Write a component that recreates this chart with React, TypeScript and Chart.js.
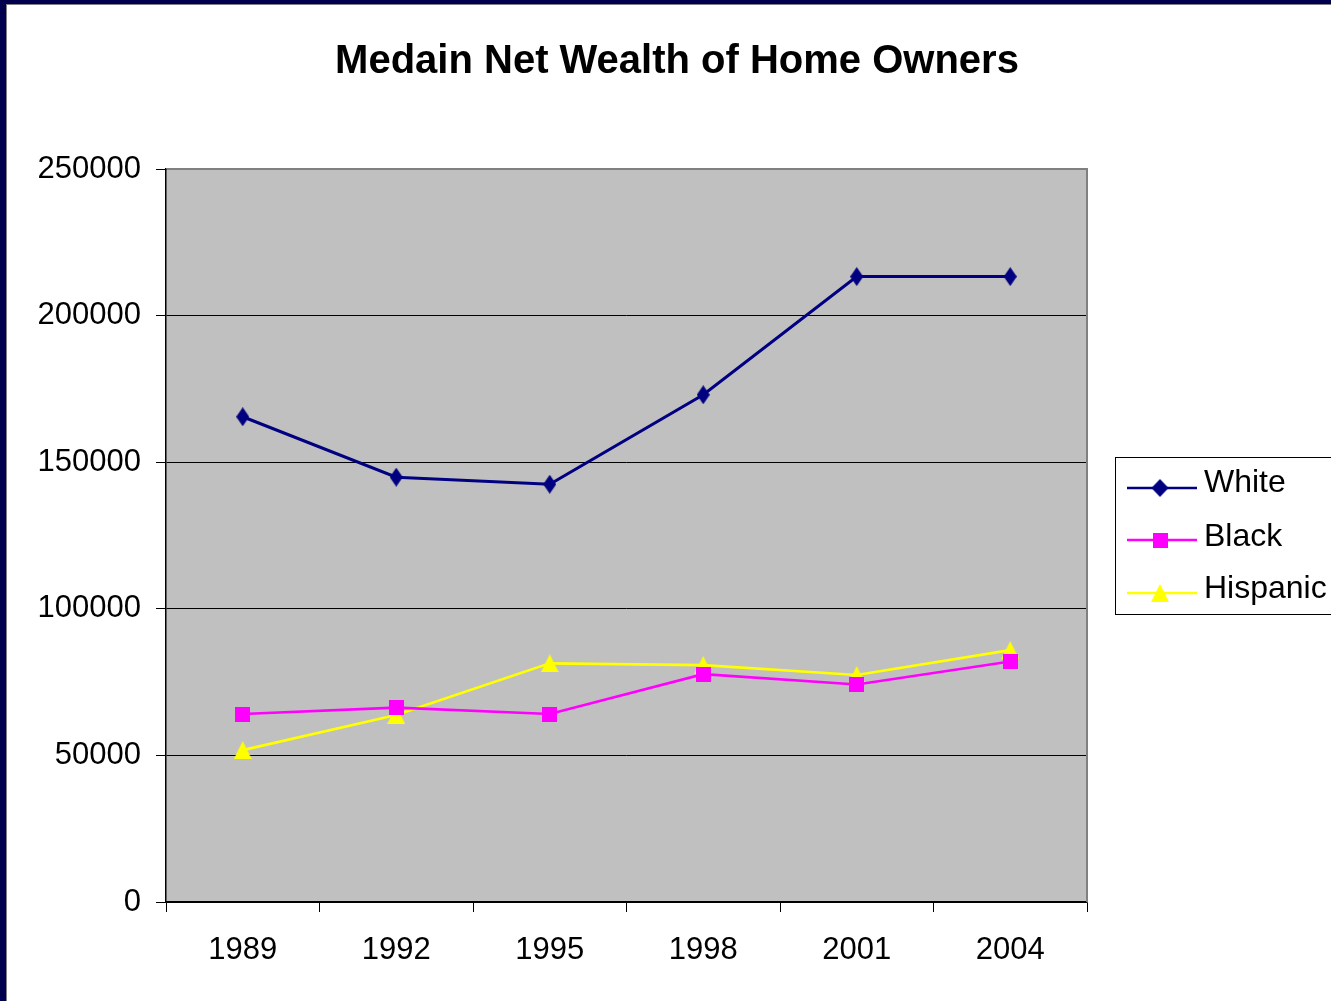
import React, { useEffect, useRef } from 'react';
import { Chart, registerables, layouts } from 'chart.js';

Chart.register(...registerables);

const titleText = 'Medain Net Wealth of Home Owners';
const years = ['1989', '1992', '1995', '1998', '2001', '2004'];
const seriesNames = ['White', 'Black', 'Hispanic'];
const whiteValues = [165500, 144900, 142500, 173000, 213300, 213300];
const blackValues = [64100, 66300, 64100, 77700, 74200, 82000];
const hispanicValues = [51800, 63800, 81400, 80800, 77400, 85900];
const yMin = 0;
const yMax = 250000;
const yStep = 50000;

const FONT = "'Liberation Sans', Arial, sans-serif";
const NAVY = '#000080';
const MAGENTA = '#FF00FF';
const YELLOW = '#FFFF00';

function makeMarker(kind: 'diamond' | 'square' | 'triangle', color: string, w: number, h: number): HTMLCanvasElement {
  const c = document.createElement('canvas');
  c.width = w; c.height = h;
  const ctx = c.getContext('2d')!;
  ctx.fillStyle = color;
  ctx.beginPath();
  if (kind === 'diamond') {
    ctx.moveTo(w / 2, 0); ctx.lineTo(w, h / 2); ctx.lineTo(w / 2, h); ctx.lineTo(0, h / 2);
  } else if (kind === 'triangle') {
    ctx.moveTo(w / 2, 0); ctx.lineTo(w, h); ctx.lineTo(0, h);
  } else {
    ctx.rect(0, 0, w, h);
  }
  ctx.closePath();
  ctx.fill();
  return c;
}

export default function App() {
  const ref = useRef<HTMLCanvasElement | null>(null);

  useEffect(() => {
    const canvas = ref.current;
    if (!canvas) return;

    const markers = [
      makeMarker('diamond', NAVY, 13, 19),
      makeMarker('square', MAGENTA, 15, 15),
      makeMarker('triangle', YELLOW, 18, 18),
    ];
    const legendMarkers = [
      makeMarker('diamond', NAVY, 17, 18),
      makeMarker('square', MAGENTA, 15, 15),
      makeMarker('triangle', YELLOW, 18, 18),
    ];
    const colors = [NAVY, MAGENTA, YELLOW];
    const values = [whiteValues, blackValues, hispanicValues];

    const plotBg = {
      id: 'plotBg',
      beforeDraw(chart: any) {
        const { ctx, chartArea: a } = chart;
        ctx.save();
        ctx.fillStyle = '#C0C0C0';
        ctx.fillRect(a.left, a.top, a.right - a.left, a.bottom - a.top);
        ctx.restore();
      },
      beforeDatasetsDraw(chart: any) {
        const { ctx, chartArea: a } = chart;
        ctx.save();
        ctx.strokeStyle = '#808080';
        ctx.lineWidth = 2;
        ctx.beginPath();
        ctx.moveTo(a.left + 1, a.top);
        ctx.lineTo(a.right, a.top);
        ctx.lineTo(a.right, a.bottom);
        ctx.stroke();
        ctx.restore();
      },
    };

    const boxLegend = {
      id: 'boxLegend',
      beforeInit(chart: any) {
        const box: any = {
          position: 'right',
          weight: 0,
          fullSize: false,
          options: {},
          left: 0, top: 0, right: 0, bottom: 0, width: 0, height: 0,
          isHorizontal() { return false; },
          update(maxWidth: number, maxHeight: number) {
            this.width = 244;
            this.height = maxHeight;
          },
          draw() {
            const ctx = chart.ctx;
            const a = chart.chartArea;
            const fx = a.right + 28;
            const fh = 157;
            const fy = (a.top + a.bottom) / 2 - fh / 2;
            ctx.save();
            ctx.strokeStyle = '#000';
            ctx.lineWidth = 1;
            ctx.strokeRect(Math.round(fx) + 0.5, Math.round(fy) + 0.5, 260, fh);
            const lineY = [31, 83, 136];
            const textY = [26, 80, 132];
            ctx.font = `32px ${FONT}`;
            ctx.textBaseline = 'middle';
            ctx.textAlign = 'left';
            for (let i = 0; i < seriesNames.length; i++) {
              const ly = fy + lineY[i];
              ctx.strokeStyle = colors[i];
              ctx.lineWidth = 2.5;
              ctx.beginPath();
              ctx.moveTo(fx + 12, ly);
              ctx.lineTo(fx + 82, ly);
              ctx.stroke();
              const m = legendMarkers[i];
              ctx.drawImage(m, fx + 45 - m.width / 2, ly - m.height / 2);
              ctx.fillStyle = '#000';
              ctx.fillText(seriesNames[i], fx + 89, fy + textY[i]);
            }
            ctx.restore();
          },
        };
        layouts.addBox(chart, box);
      },
    };

    const chart = new Chart(canvas, {
      type: 'line',
      data: {
        labels: years,
        datasets: seriesNames.map((name, i) => ({
          label: name,
          data: values[i],
          borderColor: colors[i],
          backgroundColor: colors[i],
          borderWidth: i === 0 ? 3 : 2.6,
          pointStyle: markers[i] as any,
          pointRadius: 8,
          pointHoverRadius: 8,
          tension: 0,
          fill: false,
        })),
      },
      options: {
        responsive: false,
        animation: false,
        devicePixelRatio: 1,
        layout: { padding: { left: 16, right: 0, top: 0, bottom: 0 } },
        plugins: {
          legend: { display: false },
          tooltip: { enabled: false },
          title: {
            display: true,
            text: titleText,
            color: '#000',
            font: { family: FONT, size: 40, weight: 'bold', lineHeight: 1.2 },
            padding: { top: 32.5, bottom: 83.5 },
          },
        },
        scales: {
          x: {
            type: 'category',
            offset: true,
            afterFit(scale: any) { scale.height = 99; },
            grid: {
              offset: true,
              drawOnChartArea: false,
              drawTicks: true,
              tickLength: 10,
              color: '#000',
            },
            border: { display: true, color: '#000', width: 1.5 },
            ticks: {
              color: '#000',
              font: { family: FONT, size: 31 },
              padding: 20,
              maxRotation: 0,
              autoSkip: false,
            },
          },
          y: {
            min: yMin,
            max: yMax,
            afterFit(scale: any) { scale.width = 143; },
            grid: {
              color: '#000',
              lineWidth: 1,
              drawTicks: true,
              tickLength: 10,
            },
            border: { display: true, color: '#000', width: 1.5 },
            ticks: {
              stepSize: yStep,
              color: '#000',
              font: { family: FONT, size: 31 },
              padding: 15,
              callback: (v: any) => String(v),
            },
          },
        },
      },
      plugins: [plotBg, boxLegend],
    });

    return () => chart.destroy();
  }, []);

  return (
    <div style={{ position: 'fixed', left: 0, top: 0, width: 1331, height: 1001, background: '#00004F', overflow: 'hidden' }}>
      <div
        style={{
          position: 'absolute', left: 6, top: 4, width: 1325, height: 997,
          background: '#FFFFFF', boxSizing: 'border-box',
          borderLeft: '1px solid #808080', borderTop: '1px solid #808080',
        }}
      >
        <canvas ref={ref} width={1324} height={996} style={{ position: 'absolute', left: 0, top: 0, width: 1324, height: 996 }} />
      </div>
    </div>
  );
}
